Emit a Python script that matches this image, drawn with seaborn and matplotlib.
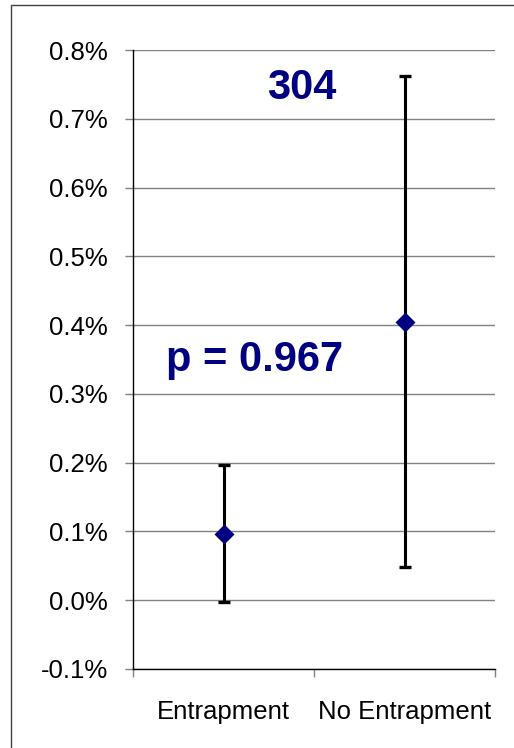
import numpy as np
import pandas as pd
import matplotlib
matplotlib.use("Agg")
import matplotlib.pyplot as plt
import seaborn as sns
from matplotlib.ticker import FuncFormatter, FixedLocator
from matplotlib.patches import Rectangle

groups = ["Entrapment", "No Entrapment"]
rate = [0.097, 0.405]      # percent
upper = [0.197, 0.762]
lower = [-0.003, 0.049]
n_label = "304"
p_label = "p = 0.967"

df = pd.DataFrame({"group": groups, "rate": rate})

sns.set_style("white")
plt.rcParams["font.family"] = ["Liberation Sans", "DejaVu Sans"]

fig = plt.figure(figsize=(5.14, 7.48), dpi=100)
ax = fig.add_axes([133/514, 1-669/748, (495-133)/514, (669-50)/748])

# error bars first so marker sits on top
yerr = np.array([np.array(rate) - np.array(lower), np.array(upper) - np.array(rate)])
ax.errorbar(range(len(groups)), rate, yerr=yerr, fmt="none", ecolor="black",
            elinewidth=2.2, capsize=4.5, capthick=2.4, zorder=3)
sns.pointplot(data=df, x="group", y="rate", errorbar=None, linestyle="none",
              marker="D", markersize=8, color="#000080", ax=ax, zorder=4)

ax.set_xlim(-0.5, 1.5)
ax.set_ylim(-0.1, 0.8)
ax.set_yticks(np.arange(-0.1, 0.81, 0.1))
ax.yaxis.set_major_formatter(FuncFormatter(lambda v, _: f"{v:.1f}%"))
ax.grid(axis="y", color="#808080", linewidth=1.0)
ax.set_axisbelow(True)
ax.set_xlabel("")
ax.set_ylabel("")

for s in ["top", "right"]:
    ax.spines[s].set_visible(False)
for s in ["left", "bottom"]:
    ax.spines[s].set_color("black")
    ax.spines[s].set_linewidth(1.0)
    ax.spines[s].set_zorder(5)

ax.tick_params(axis="y", left=True, length=6, width=1, color="#808080", pad=12,
               labelsize=18.5, labelcolor="black")
ax.tick_params(axis="x", which="major", bottom=False, length=0, pad=22,
               labelsize=18.5, labelcolor="black")
ax.xaxis.set_minor_locator(FixedLocator([-0.5, 0.5, 1.5]))
ax.tick_params(axis="x", which="minor", bottom=True, length=6, width=1,
               color="#808080", direction="out")

ax.text(0.43, 0.745, n_label, fontsize=30, fontweight="bold", color="#000080",
        ha="center", va="center")
ax.text(0.17, 0.35, p_label, fontsize=30, fontweight="bold", color="#000080",
        ha="center", va="center")

fig.patches.append(Rectangle((11/514, -0.1), 1.2, 1-5/748+0.1, transform=fig.transFigure,
                             fill=False, edgecolor="#404040", linewidth=1.0))

fig.savefig("out.png", dpi=100)
